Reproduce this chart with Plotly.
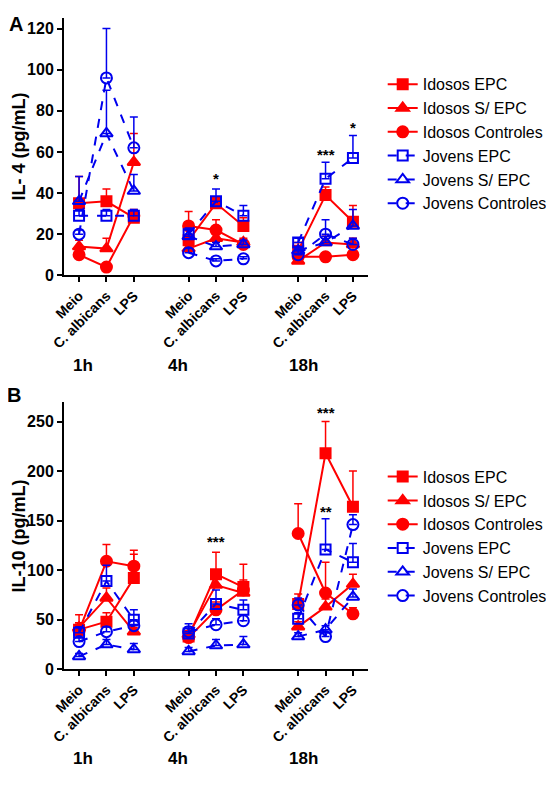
import plotly.graph_objects as go

# ---------------- data ----------------
categories = ["Meio", "C. albicans", "LPS"]
times = ["1h", "4h", "18h"]
series_names = ["Idosos EPC", "Idosos S/ EPC", "Idosos Controles",
                "Jovens EPC", "Jovens S/ EPC", "Jovens Controles"]

# order: 1h Meio, 1h C.alb, 1h LPS, 4h Meio, ..., 18h LPS
il4_idosos_epc = [35, 36, 28, 17, 35, 24, 12, 39, 26]
il4_idosos_epc_err = [13, 6, 3, 7, 3, 4, 4, 4, 8]
il4_idosos_sepc = [14, 13, 55, 13, 18, 16, 7, 16, 15]
il4_idosos_sepc_err = [3, 5, 14, 2, 3, 2, 2, 3, 3]
il4_idosos_ctrl = [10, 4, 29, 24, 22, 15, 9, 9, 10]
il4_idosos_ctrl_err = [2, 1, 3, 7, 5, 2, 2, 2, 2]
il4_jovens_epc = [29, 29, 29, 20, 36, 29, 16, 47, 57]
il4_jovens_epc_err = [3, 3, 3, 3, 6, 5, 2, 8, 11]
il4_jovens_sepc = [36, 69, 41, 19, 14, 15, 12, 16, 24]
il4_jovens_sepc_err = [12, 21, 8, 3, 2, 2, 2, 3, 8]
il4_jovens_ctrl = [20, 96, 62, 11, 7, 8, 10, 20, 15]
il4_jovens_ctrl_err = [2, 24, 15, 2, 1, 1, 2, 7, 3]

il10_idosos_epc = [40, 48, 92, 33, 96, 83, 66, 218, 164]
il10_idosos_epc_err = [15, 9, 24, 5, 22, 23, 10, 32, 36]
il10_idosos_sepc = [42, 72, 38, 35, 85, 77, 43, 63, 86]
il10_idosos_sepc_err = [5, 10, 4, 4, 8, 8, 5, 8, 10]
il10_idosos_ctrl = [39, 109, 104, 32, 60, 80, 137, 77, 56]
il10_idosos_ctrl_err = [8, 17, 16, 4, 8, 10, 30, 31, 6]
il10_jovens_epc = [37, 89, 50, 36, 66, 60, 51, 121, 108]
il10_jovens_epc_err = [6, 16, 10, 10, 14, 10, 6, 31, 19]
il10_jovens_sepc = [13, 25, 20, 18, 24, 25, 33, 40, 73]
il10_jovens_sepc_err = [3, 5, 6, 4, 6, 8, 4, 4, 8]
il10_jovens_ctrl = [28, 38, 44, 38, 45, 49, 65, 33, 146]
il10_jovens_ctrl_err = [4, 5, 5, 5, 6, 6, 7, 4, 10]

# significance marks: (group index, category index, value, text)
il4_sig = [(1, 1, 47, "*"), (2, 1, 59, "***"), (2, 2, 72, "*")]
il10_sig = [(1, 1, 129, "***"), (2, 1, 259, "***"), (2, 1, 159, "**")]

# ---------------- layout helpers ----------------
xpos = [g * 4 + i for g in range(len(times)) for i in range(len(categories))]
ticktext = [c for _ in times for c in categories]

# the page body adds an 8px margin; lay out in window pixels and compensate
OFF = 8
W, H = 554 - OFF, 790 - OFF


def px(x):
    return (x - OFF) / W


def py(y):
    return 1 - (y - OFF) / H


RED = "#ff0000"
BLUE = "#0000ee"
FONT = "Arial, Liberation Sans, sans-serif"

styles = [
    dict(color=RED, symbol="square", dash="solid", size=10),
    dict(color=RED, symbol="triangle-up", dash="solid", size=11),
    dict(color=RED, symbol="circle", dash="solid", size=11),
    dict(color=BLUE, symbol="square-open", dash="dash", size=10),
    dict(color=BLUE, symbol="triangle-up-open", dash="dash", size=11),
    dict(color=BLUE, symbol="circle-open", dash="dash", size=11),
]

panelA = [(il4_idosos_epc, il4_idosos_epc_err), (il4_idosos_sepc, il4_idosos_sepc_err),
          (il4_idosos_ctrl, il4_idosos_ctrl_err), (il4_jovens_epc, il4_jovens_epc_err),
          (il4_jovens_sepc, il4_jovens_sepc_err), (il4_jovens_ctrl, il4_jovens_ctrl_err)]
panelB = [(il10_idosos_epc, il10_idosos_epc_err), (il10_idosos_sepc, il10_idosos_sepc_err),
          (il10_idosos_ctrl, il10_idosos_ctrl_err), (il10_jovens_epc, il10_jovens_epc_err),
          (il10_jovens_sepc, il10_jovens_sepc_err), (il10_jovens_ctrl, il10_jovens_ctrl_err)]

fig = go.Figure()


def add_panel(data, xa, ya, legend):
    for name, (vals, errs), st in zip(series_names, data, styles):
        for g in range(len(times)):
            sl = slice(g * 3, g * 3 + 3)
            fig.add_trace(go.Scatter(
                x=xpos[sl], y=vals[sl], name=name, legendgroup=legend + name,
                showlegend=(g == 0), legend=legend,
                xaxis=xa, yaxis=ya, mode="lines+markers", cliponaxis=False,
                line=dict(color=st["color"], width=2, dash=st["dash"]),
                marker=dict(symbol=st["symbol"], size=st["size"], color=st["color"],
                            line=dict(color=st["color"], width=2)),
                error_y=dict(type="data", symmetric=False, array=errs[sl],
                             arrayminus=[0, 0, 0], color=st["color"],
                             thickness=1.5, width=4),
            ))


add_panel(panelA, "x", "y", "legend")
add_panel(panelB, "x2", "y2", "legend2")

xdom = [px(64), px(368)]
yA = [py(275.3), py(18.3)]
yB = [py(669.3), py(401.7)]

axis_common = dict(showline=True, linecolor="black", linewidth=2, ticks="outside",
                   ticklen=5, tickwidth=2, tickcolor="black", showgrid=False,
                   zeroline=False, automargin=False)
xcommon = dict(axis_common, range=[-0.55, 10.55], tickmode="array", tickvals=xpos,
               ticktext=ticktext, tickangle=-45,
               tickfont=dict(family=FONT, size=14, color="black", weight="bold"))
ycommon = dict(axis_common, ticklabelstandoff=0,
               tickfont=dict(family=FONT, size=16, color="black", weight="bold"))

fig.update_layout(
    template="none",
    width=W, height=H,
    margin=dict(l=0, r=0, t=0, b=0, autoexpand=False),
    paper_bgcolor="white", plot_bgcolor="white",
    font=dict(family=FONT, color="black"),
    xaxis=dict(xcommon, domain=xdom, anchor="y"),
    yaxis=dict(ycommon, domain=yA, range=[0, 125], dtick=20, anchor="x"),
    xaxis2=dict(xcommon, domain=xdom, anchor="y2"),
    yaxis2=dict(ycommon, domain=yB, range=[0, 270], dtick=50, anchor="x2"),
    legend=dict(x=px(382.7), y=py(67.3), xanchor="left", yanchor="top",
                font=dict(family=FONT, size=16, color="black"),
                bgcolor="rgba(0,0,0,0)", borderwidth=0, tracegroupgap=0),
    legend2=dict(x=px(382.7), y=py(459.7), xanchor="left", yanchor="top",
                 font=dict(family=FONT, size=16, color="black"),
                 bgcolor="rgba(0,0,0,0)", borderwidth=0, tracegroupgap=0),
    showlegend=True,
)

ann = []
center = dict(xanchor="center", yanchor="middle", showarrow=False)
# panel letters
ann.append(dict(center, text="<b>A</b>", x=px(16), y=py(24), xref="paper", yref="paper",
                font=dict(size=20, family=FONT)))
ann.append(dict(center, text="<b>B</b>", x=px(14), y=py(395), xref="paper", yref="paper",
                font=dict(size=20, family=FONT)))
# y titles
ann.append(dict(center, text="<b>IL- 4 (pg/mL)</b>", x=px(18.5), y=py(147), xref="paper",
                yref="paper", textangle=-90, font=dict(size=18, family=FONT)))
ann.append(dict(center, text="<b>IL-10 (pg/mL)</b>", x=px(18.5), y=py(536), xref="paper",
                yref="paper", textangle=-90, font=dict(size=18, family=FONT)))
# time group labels
time_x = [0.16, 3.62, 8.19]
for t, tx in zip(times, time_x):
    ann.append(dict(center, text=f"<b>{t}</b>", x=tx, y=py(365.5), xref="x", yref="paper",
                    font=dict(size=17, family=FONT)))
    ann.append(dict(center, text=f"<b>{t}</b>", x=tx, y=py(758), xref="x2", yref="paper",
                    font=dict(size=17, family=FONT)))
# significance
for g, c, v, s in il4_sig:
    ann.append(dict(center, text=s, x=g * 4 + c, y=v, xref="x", yref="y",
                    font=dict(size=15, family=FONT, weight="bold")))
for g, c, v, s in il10_sig:
    ann.append(dict(center, text=s, x=g * 4 + c, y=v, xref="x2", yref="y2",
                    font=dict(size=15, family=FONT, weight="bold")))
fig.update_layout(annotations=ann)

fig.write_html("out.html")
